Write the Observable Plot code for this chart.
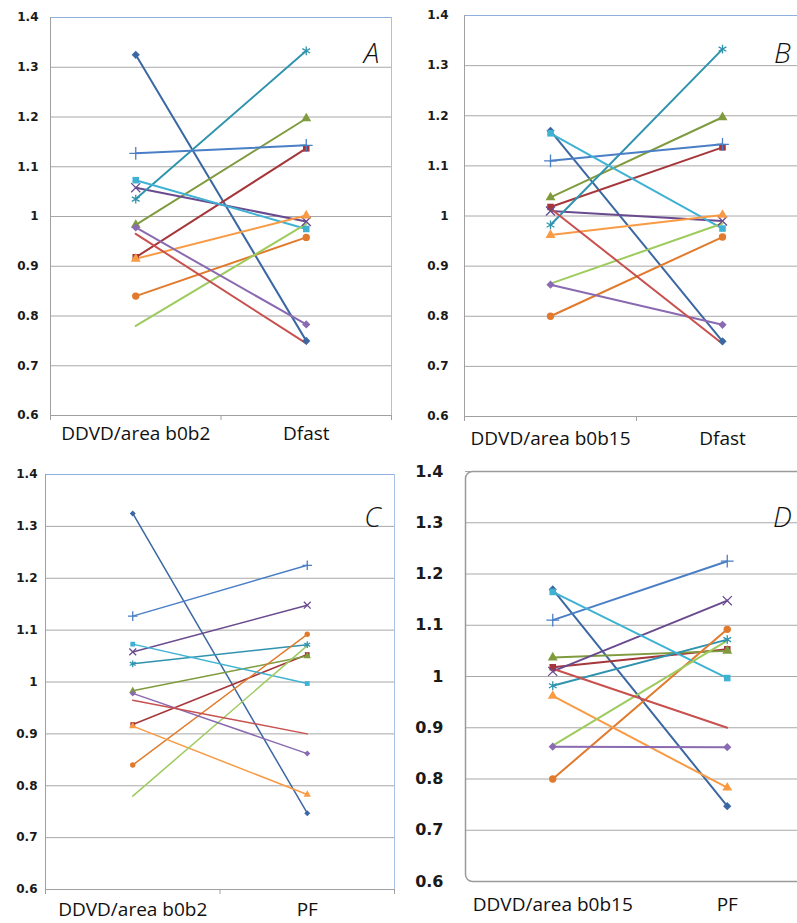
<!DOCTYPE html>
<html><head><meta charset="utf-8">
<script src="https://cdn.jsdelivr.net/npm/d3@7"></script>
<script src="https://cdn.jsdelivr.net/npm/@observablehq/plot@0.6"></script>
<style>
html,body{margin:0;padding:0;background:#fff;overflow:hidden;}
#root{position:relative;width:797px;height:923px;overflow:hidden;background:#fff;}
.panel{position:absolute;}
</style></head>
<body><div id="root"></div>
<script>
// ---- data ----
const seriesNames = ["S1","S2","S3","S4","S5","S6","S7","S8","S9","S10","S11","S12"];
const seriesColors = ["#3B68A3","#A5373B","#7F9B3E","#6A4A8E","#2F93AE","#E17A2C","#4A7FC6","#3FB2D4","#F99A44","#9DCB5E","#8A6AB0","#C8504E"];
const seriesMarkers = ["diamond2","square","triangle","times","asterisk","circle","plus","square","triangle","none","diamond2","none"];
const ddvdB0b2  = [1.325, 0.918, 0.983, 1.058, 1.035, 0.840, 1.127, 1.073, 0.915, 0.780, 0.978, 0.965];
const ddvdB0b15 = [1.170, 1.018, 1.037, 1.010, 0.982, 0.800, 1.110, 1.165, 0.962, 0.865, 0.863, 1.015];
const dfast     = [0.750, 1.137, 1.197, 0.990, 1.333, 0.958, 1.143, 0.975, 1.002, 0.985, 0.783, 0.745];
const pf        = [0.747, 1.053, 1.050, 1.148, 1.072, 1.092, 1.225, 0.997, 0.783, 1.070, 0.862, 0.900];
const yTicks = [0.6, 0.7, 0.8, 0.9, 1, 1.1, 1.2, 1.3, 1.4];
const panelLetters = ["A","B","C","D"];
const catLabelsA = ["DDVD/area b0b2", "Dfast"];
const catLabelsB = ["DDVD/area b0b15", "Dfast"];
const catLabelsC = ["DDVD/area b0b2", "PF"];
const catLabelsD = ["DDVD/area b0b15", "PF"];

const filledMarkers = new Set(["diamond2","square","triangle","circle"]);

function makePanel(cfg) {
  const rows = seriesNames.flatMap((s, i) => [
    {series: s, idx: i, x: 0.5, y: cfg.left[i]},
    {series: s, idx: i, x: 1.5, y: cfg.right[i]}
  ]);
  const marks = [];
  marks.push(Plot.ruleY(yTicks.slice(1, -1), {stroke: "#a8a8a8", strokeWidth: 1}));
  if (cfg.rounded) {
    marks.push(Plot.ruleY([1.4], {stroke: "#a8a8a8"}));
    marks.push(Plot.frame({stroke: "#9a9a9a", strokeWidth: 1.5, rx: 7}));
  } else {
    marks.push(Plot.ruleY([1.4], {stroke: "#8fb0dc", strokeWidth: 1}));
    marks.push(Plot.ruleX([2], {stroke: "#a9c2e4", strokeWidth: 1}));
    marks.push(Plot.ruleX([0], {stroke: "#a0a0a0", strokeWidth: 1}));
    marks.push(Plot.ruleY([0.6], {stroke: "#a0a0a0", strokeWidth: 1}));
    marks.push(Plot.axisX({ticks: [0, 1, 2], tickSize: 5, tickFormat: () => "", label: null, stroke: "#a0a0a0"}));
  }
  marks.push(Plot.axisY({
    ticks: yTicks, tickSize: 0, tickPadding: cfg.yPad, label: null,
    tickFormat: d => String(d),
    fontSize: cfg.yFont, fontWeight: "bold", fontFamily: "DejaVu Sans", fill: "#1a1a1a"
  }));
  marks.push(Plot.axisX({
    ticks: [0.5, 1.5], tickSize: 0, tickPadding: cfg.xPad, label: null,
    tickFormat: v => cfg.cats[Math.floor(v)],
    fontSize: cfg.xFont, fontFamily: "Open Sans", fill: "#111"
  }));
  marks.push(Plot.line(rows, {x: "x", y: "y", z: "series", stroke: "series", strokeWidth: cfg.lw}));
  seriesNames.forEach((s, i) => {
    const m = seriesMarkers[i];
    if (m === "none") return;
    const data = rows.filter(d => d.idx === i);
    if (filledMarkers.has(m)) {
      marks.push(Plot.dot(data, {x: "x", y: "y", symbol: m, fill: seriesColors[i], stroke: "none", r: cfg.r}));
    } else {
      marks.push(Plot.dot(data, {x: "x", y: "y", symbol: m, stroke: seriesColors[i], strokeWidth: 1.3, r: cfg.r + 0.5}));
    }
  });
  marks.push(Plot.text([cfg.letter], {
    frameAnchor: "top-right", dx: cfg.ldx, dy: cfg.ldy, textAnchor: "middle",
    fontSize: 28, fontStyle: "italic", fontWeight: 300, fontFamily: "Open Sans", fill: "#111"
  }));

  const svg = Plot.plot({
    width: cfg.width, height: cfg.height,
    marginLeft: cfg.ml, marginRight: cfg.mr, marginTop: cfg.mt, marginBottom: cfg.mb,
    x: {domain: [0, 2], axis: null},
    y: {domain: [0.6, 1.4], axis: null},
    color: {domain: seriesNames, range: seriesColors},
    style: {background: "transparent", overflow: "visible"},
    marks
  });
  svg.classList.add("panel");
  svg.style.left = cfg.px + "px";
  svg.style.top = cfg.py + "px";
  document.getElementById("root").appendChild(svg);
}

makePanel({letter: panelLetters[0], left: ddvdB0b2, right: dfast, cats: catLabelsA,
  px: 0, py: 0, width: 400, height: 455, ml: 50, mr: 9, mt: 17, mb: 40,
  yPad: 12, yFont: 12, xPad: 11, xFont: 19, lw: 2, r: 3.7, ldx: -20, ldy: 26});
makePanel({letter: panelLetters[1], left: ddvdB0b15, right: dfast, cats: catLabelsB,
  px: 400, py: 0, width: 420, height: 455, ml: 64, mr: 12, mt: 15, mb: 39,
  yPad: 16, yFont: 12, xPad: 15, xFont: 19, lw: 2, r: 3.7, ldx: -26, ldy: 28});
makePanel({letter: panelLetters[2], left: ddvdB0b2, right: pf, cats: catLabelsC,
  px: 0, py: 455, width: 400, height: 468, ml: 45, mr: 6, mt: 19, mb: 34,
  yPad: 8, yFont: 12, xPad: 13, xFont: 19, lw: 1.5, r: 2.7, ldx: -22, ldy: 33});
makePanel({letter: panelLetters[3], left: ddvdB0b15, right: pf, cats: catLabelsD,
  px: 400, py: 455, width: 420, height: 468, ml: 65, mr: 6, mt: 16, mb: 42,
  yPad: 22, yFont: 16, xPad: 16, xFont: 19, lw: 2, r: 3.7, ldx: -32, ldy: 36, rounded: true});
</script>
</body></html>
